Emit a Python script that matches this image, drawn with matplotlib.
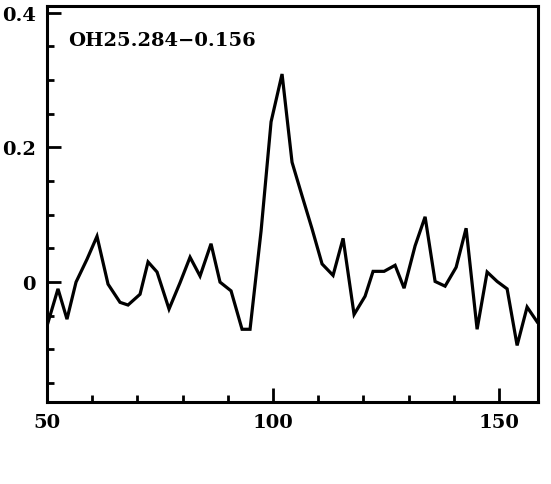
import matplotlib
matplotlib.use("Agg")
import matplotlib.pyplot as plt
from matplotlib.ticker import MultipleLocator, FixedLocator

velocity = [50.0, 52.43, 54.42, 56.42, 58.85, 61.06, 63.50, 66.15, 67.92, 70.58,
            72.35, 74.34, 76.99, 79.42, 81.64, 83.85, 86.28, 88.27, 90.71, 93.14,
            94.91, 97.35, 99.56, 101.99, 104.20, 106.42, 108.63, 110.84, 113.27, 115.49,
            117.92, 120.35, 122.12, 124.56, 126.99, 128.98, 131.42, 133.63, 135.84, 138.05,
            140.49, 142.70, 145.13, 147.35, 149.56, 151.77, 153.98, 156.19, 158.41]
flux = [-0.065, -0.010, -0.055, 0.000, 0.034, 0.068, -0.003, -0.030, -0.034, -0.018,
        0.030, 0.015, -0.040, -0.001, 0.037, 0.009, 0.057, 0.000, -0.013, -0.070,
        -0.070, 0.076, 0.238, 0.309, 0.178, 0.128, 0.079, 0.027, 0.010, 0.065,
        -0.048, -0.021, 0.016, 0.016, 0.025, -0.009, 0.054, 0.097, 0.001, -0.006,
        0.022, 0.080, -0.070, 0.015, 0.001, -0.010, -0.094, -0.037, -0.059]
source_name = "OH25.284\u22120.156"
xticks = [50, 100, 150]
yticks = [0, 0.2, 0.4]
yticklabels = ["0", "0.2", "0.4"]

fig = plt.figure(figsize=(5.51, 4.85), dpi=100)
ax = fig.add_axes([47/551, (485-403)/485, 491/551, 396/485])
ax.plot(velocity, flux, color="black", lw=2.3, solid_joinstyle="miter")
ax.set_xlim(50, 158.6)
ax.set_ylim(-0.178, 0.41)

for s in ax.spines.values():
    s.set_linewidth(2.2)

font = dict(family="DejaVu Serif", weight="heavy", size=14)
ax.xaxis.set_major_locator(FixedLocator(xticks))
ax.xaxis.set_minor_locator(MultipleLocator(10))
ax.yaxis.set_major_locator(FixedLocator(yticks))
ax.yaxis.set_minor_locator(MultipleLocator(0.05))
ax.set_xticklabels([str(t) for t in xticks], fontdict=font)
ax.set_yticklabels(yticklabels, fontdict=font)
ax.tick_params(which="major", direction="in", length=10, width=2, pad=8)
ax.tick_params(which="minor", direction="in", length=5, width=2)

ax.text(0.043, 0.915, source_name, transform=ax.transAxes, ha="left", va="center",
        family="DejaVu Serif", weight="heavy", size=14)

fig.savefig("out.png", dpi=100)
